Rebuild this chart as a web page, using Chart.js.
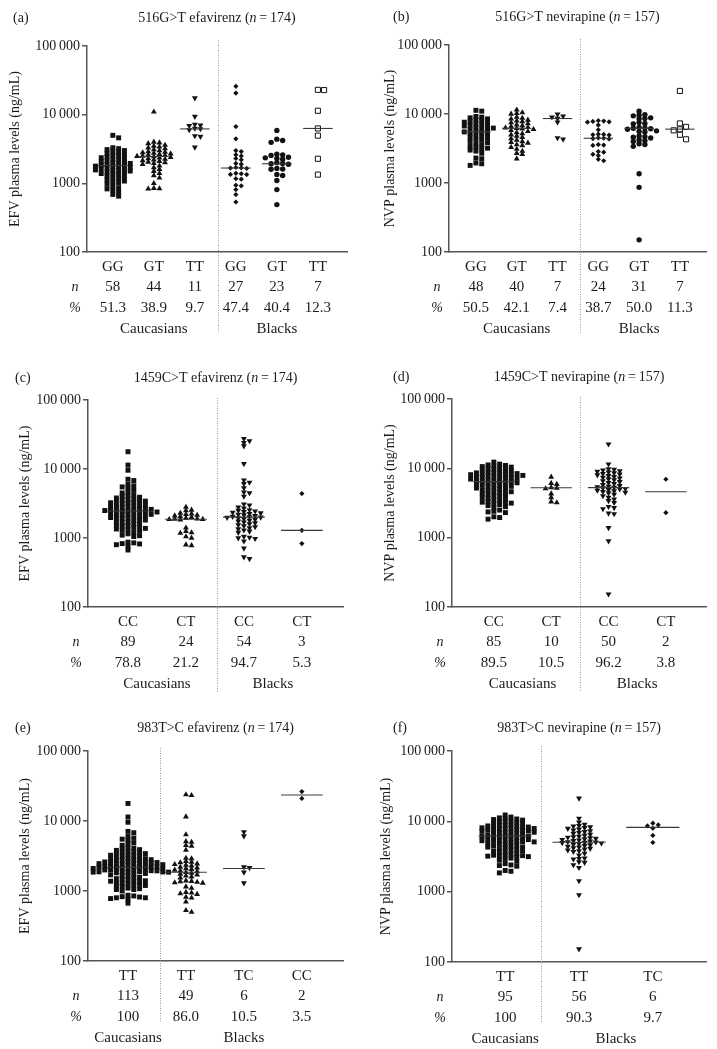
<!DOCTYPE html>
<html>
<head>
<meta charset="utf-8">
<script src="https://cdn.jsdelivr.net/npm/chart.js@4.4.0/dist/chart.umd.min.js"></script>
<style>
  body { margin: 0; background: #fff; width: 717px; height: 1049px; position: relative; overflow: hidden; }
  canvas { position: absolute; }
</style>
</head>
<body>
<canvas id="pa"></canvas>
<canvas id="pb"></canvas>
<canvas id="pc"></canvas>
<canvas id="pd"></canvas>
<canvas id="pe"></canvas>
<canvas id="pf"></canvas>
<script>
// y axis (log) ticks
const yTickVals = [100, 1000, 10000, 100000];
const yTickLabels = ['100', '1000', '10\u2009000', '100\u2009000'];

// (a) 516G>T efavirenz
const aGeno = ['GG', 'GT', 'TT', 'GG', 'GT', 'TT'];
const aN = ['58', '44', '11', '27', '23', '7'];
const aPct = ['51.3', '38.9', '9.7', '47.4', '40.4', '12.3'];
const aMed = [1820, 2460, 6200, 1670, 1930, 6300];
const aCaucGG = [5000, 4600, 3300, 3200, 3100, 3000, 2900, 2800, 2720, 2640, 2560, 2490, 2420, 2360, 2300, 2240, 2180, 2130, 2080, 2030,
  1990, 1950, 1910, 1870, 1840, 1810, 1780, 1750, 1720, 1690, 1660, 1630, 1600, 1570, 1540, 1510, 1480, 1450, 1420, 1390,
  1360, 1320, 1280, 1240, 1200, 1160, 1120, 1080, 1050, 1010, 970, 920, 860, 830, 800, 740, 690, 650];
const aCaucGT = [11000, 4000, 3900, 3800, 3600, 3500, 3400, 3300, 3200, 3100, 3000, 2900, 2850, 2800, 2750, 2700, 2650, 2600, 2550, 2500,
  2480, 2450, 2400, 2350, 2300, 2250, 2200, 2150, 2100, 2050, 2000, 1950, 1900, 1800, 1700, 1600, 1500, 1400, 1300, 1200,
  1000, 850, 840, 830];
const aCaucTT = [17500, 9400, 7200, 7000, 6900, 6300, 6200, 6000, 4900, 4800, 3350];
const aBlkGG = [25900, 20600, 6700, 4450, 3000, 2900, 2600, 2500, 2300, 2200, 1950, 1900, 1700, 1680, 1670, 1650, 1400, 1380, 1350, 1340,
  1170, 1150, 940, 920, 810, 685, 535];
const aBlkGT = [5900, 4400, 4200, 3950, 2650, 2600, 2550, 2400, 2350, 2300, 2250, 2000, 1950, 1930, 1900, 1650, 1620, 1600, 1350, 1300,
  1100, 810, 490];
const aBlkTT = [23000, 22800, 11400, 6300, 4950, 2280, 1340];

// (b) 516G>T nevirapine
const bGeno = ['GG', 'GT', 'TT', 'GG', 'GT', 'TT'];
const bN = ['48', '40', '7', '24', '31', '7'];
const bPct = ['50.5', '42.1', '7.4', '38.7', '50.0', '11.3'];
const bMed = [5530, 6200, 8600, 4450, 6200, 6030];
const bCaucGG = [11300, 11000, 9200, 9000, 8800, 8500, 8200, 8000, 7800, 7600, 7400, 7200, 7000, 6850, 6700, 6550, 6400, 6250, 6100, 5950,
  5800, 5650, 5500, 5350, 5200, 5050, 4900, 4750, 4600, 4450, 4300, 4150, 4000, 3850, 3700, 3550, 3400, 3300, 3200, 3100,
  3000, 2900, 2700, 2300, 2250, 1950, 1900, 1800];
const bCaucGT = [11500, 10500, 10200, 10000, 9000, 8700, 8500, 8200, 8000, 7800, 7500, 7300, 7000, 6800, 6600, 6400, 6300, 6200, 6100, 6000,
  5800, 5600, 5400, 5200, 5000, 4800, 4600, 4400, 4200, 4000, 3900, 3800, 3600, 3500, 3300, 3100, 2900, 2700, 2600, 2250];
const bCaucTT = [9900, 9300, 9000, 8600, 7600, 4500, 4300];
const bBlkGG = [8000, 7900, 7800, 7700, 7600, 6900, 5900, 5100, 5050, 5000, 4950, 4500, 4450, 4400, 4350, 3600, 3550, 3500, 2850, 2800,
  2600, 2500, 2200, 2100];
const bBlkGT = [11000, 9800, 9600, 9400, 8800, 8600, 8500, 7500, 7300, 7200, 6400, 6300, 6200, 6100, 6000, 5700, 5600, 5500, 4800, 4700,
  4600, 4500, 4200, 4100, 4000, 3700, 3600, 3400, 1360, 865, 150];
const bBlkTT = [21600, 7300, 6500, 6000, 5800, 5000, 4300];

// (c) 1459C>T efavirenz
const cGeno = ['CC', 'CT', 'CC', 'CT'];
const cN = ['89', '24', '54', '3'];
const cPct = ['78.8', '21.2', '94.7', '5.3'];
const cMed = [2460, 1870, 2010, 1290];
const cCaucCC = [17800, 11400, 9600, 7100, 6800, 6000, 5700, 5500, 5300, 4900, 4700, 4500, 4200, 4100, 4000, 3900, 3800, 3700,
  3600, 3540, 3480, 3420, 3360, 3300, 3240, 3180, 3120, 3060, 3000, 2950, 2900, 2850, 2800, 2750, 2700, 2660, 2620, 2600,
  2580, 2540, 2500, 2460, 2420, 2400, 2380, 2340, 2300, 2260, 2220, 2200, 2180, 2140, 2100, 2060, 2020, 2000, 1980, 1940,
  1900, 1860, 1820, 1780, 1740, 1700, 1660, 1620, 1580, 1540, 1500, 1470, 1440, 1410, 1380, 1350, 1320, 1290, 1260,
  1200, 1150, 1100, 1080, 1050, 870, 850, 830, 820, 800, 760, 670];
const cCaucCT = [2800, 2550, 2500, 2300, 2250, 2200, 2150, 2100, 2050, 2000, 1950, 1900, 1880, 1870, 1860, 1840,
  1400, 1250, 1200, 1180, 1050, 1000, 800, 780];
const cBlkCC = [27500, 25500, 24000, 21500, 11900, 6900, 6400, 6100, 5300, 4600, 4500, 4000, 3100, 3000, 2800, 2700, 2550, 2500, 2450, 2400,
  2350, 2300, 2250, 2200, 2150, 2100, 2050, 2020, 2000, 1980, 1950, 1900, 1850, 1800, 1750, 1700, 1650, 1600, 1550, 1500,
  1450, 1400, 1350, 1300, 1250, 1200, 1050, 1020, 1000, 980, 900, 710, 530, 500];
const cBlkCT = [4400, 1290, 830];

// (d) 1459C>T nevirapine
const dGeno = ['CC', 'CT', 'CC', 'CT'];
const dN = ['85', '10', '50', '2'];
const dPct = ['89.5', '10.5', '96.2', '3.8'];
const dMed = [6430, 5250, 5270, 4600];
const dCaucCC = [12300, 11500, 11200, 11000, 10800, 10600, 10400, 10200, 10000, 9800, 9600, 9400, 9200, 9000, 8800, 8700, 8600, 8500, 8400, 8300,
  8200, 8100, 8000, 7900, 7800, 7700, 7600, 7500, 7400, 7300, 7200, 7100, 7000, 6900, 6800, 6700, 6600, 6500, 6400, 6300,
  6200, 6100, 6000, 5900, 5800, 5700, 5600, 5500, 5400, 5300, 5200, 5100, 5000, 4900, 4800, 4700, 4600, 4500, 4400, 4300,
  4200, 4100, 4000, 3900, 3800, 3700, 3600, 3500, 3400, 3300, 3250, 3200, 3150, 3100, 3000, 2900, 2800, 2700, 2500, 2400,
  2350, 2300, 2000, 1950, 1850];
const dCaucCT = [7500, 6100, 5900, 5300, 5200, 5100, 4300, 3800, 3300, 3200];
const dBlkCC = [22300, 11500, 9800, 9600, 9400, 9200, 9000, 8800, 8600, 8400, 8200, 8000, 7800, 7600, 7400, 7200, 7000, 6800, 6600, 6400,
  6200, 6000, 5800, 5600, 5500, 5400, 5300, 5200, 5100, 5000, 4900, 4800, 4700, 4600, 4500, 4400, 4200, 4000, 3800, 3600,
  3400, 3200, 2800, 2700, 2600, 2250, 2200, 1390, 895, 153];
const dBlkCT = [6960, 2290];

// (e) 983T>C efavirenz
const eGeno = ['TT', 'TT', 'TC', 'CC'];
const eN = ['113', '49', '6', '2'];
const ePct = ['100', '86.0', '10.5', '3.5'];
const eMed = [2180, 1850, 2100, 23500];
const eCaucTT = cCaucCC.concat(cCaucCT);
const eBlkTT = [23800, 23200, 11500, 6400, 5100, 5000, 4500, 4400, 3850, 2950, 2900, 2650, 2600, 2550, 2450, 2400, 2350, 2300, 2200, 2150,
  2100, 2050, 2000, 1950, 1900, 1850, 1800, 1750, 1700, 1650, 1600, 1550, 1400, 1380, 1360, 1340, 1320, 1300, 1150, 1100,
  960, 940, 920, 900, 820, 800, 700, 530, 500];
const eBlkTC = [7000, 6100, 2200, 2150, 1850, 1300];
const eBlkCC = [26300, 21000];

// (f) 983T>C nevirapine
const fGeno = ['TT', 'TT', 'TC'];
const fN = ['95', '56', '6'];
const fPct = ['100', '90.3', '9.7'];
const fMed = [6200, 5040, 8200];
const fCaucTT = dCaucCC.concat(dCaucCT);
const fBlkTT = [21300, 11000, 9700, 9000, 8700, 8500, 8300, 8100, 7900, 7700, 7500, 7300, 7100, 6900, 6700, 6500, 6300, 6100, 6000, 5900,
  5800, 5700, 5600, 5500, 5400, 5300, 5200, 5100, 5050, 5000, 4950, 4900, 4800, 4700, 4600, 4500, 4400, 4300, 4200, 4100,
  4000, 3900, 3800, 3700, 3500, 3300, 3000, 2950, 2900, 2650, 2600, 2400, 2200, 1420, 900, 153];
const fBlkTC = [9400, 8900, 8600, 8000, 6300, 5000];

const FONT = '"Liberation Serif", "Times New Roman", serif';
const TXT = '#1b1b1b';
const AXIS = '#555';

const MARKS = {
  sq:   { style: 'rect', r: 3.5, rot: 0, fill: '#111', bw: 0, s: 5.8, h: 3.4 },
  tri:  { style: 'triangle', r: 3.4, rot: 0, fill: '#111', bw: 0, s: 5.6, h: 3.2 },
  dtri: { style: 'triangle', r: 3.4, rot: 180, fill: '#111', bw: 0, s: 5.6, h: 3.2 },
  dia:  { style: 'rectRot', r: 2.6, rot: 0, fill: '#111', bw: 0, s: 5.4, h: 3.2 },
  dot:  { style: 'circle', r: 2.7, rot: 0, fill: '#111', bw: 0, s: 5.8, h: 3.6 },
  osq:  { style: 'rect', r: 3.6, rot: 0, fill: '#fff', bw: 1, s: 6.2, h: 5 }
};

const panels = [
  { id: 'pa', box: [0, 0, 358, 345], area: [87, 347, 46, 252], xr: [0.37, 6.71], div: 3.56, divSpan: [-6, 81],
    letter: '(a)', letterX: 13, titleDy: 28, yTitleX: 15, yTitle: 'EFV plasma levels (ng/mL)',
    title: [['516G>T efavirenz (', 0], ['n', 1], ['\u2009=\u2009174)', 0]],
    geno: aGeno, n: aN, pct: aPct, med: aMed,
    groups: [aCaucGG, aCaucGT, aCaucTT, aBlkGG, aBlkGT, aBlkTT], marks: ['sq', 'tri', 'dtri', 'dia', 'dot', 'osq'],
    pops: [['Caucasians', 2], ['Blacks', 5]] },
  { id: 'pb', box: [358, 0, 359, 345], area: [449, 706, 45, 252], xr: [0.34, 6.64], div: 3.55, divSpan: [-6, 81],
    letter: '(b)', letterX: 35, titleDy: 28, yTitleX: 32, yTitle: 'NVP plasma levels (ng/mL)',
    title: [['516G>T nevirapine (', 0], ['n', 1], ['\u2009=\u2009157)', 0]],
    geno: bGeno, n: bN, pct: bPct, med: bMed,
    groups: [bCaucGG, bCaucGT, bCaucTT, bBlkGG, bBlkGT, bBlkTT], marks: ['sq', 'tri', 'dtri', 'dia', 'dot', 'osq'],
    pops: [['Caucasians', 2], ['Blacks', 5]] },
  { id: 'pc', box: [0, 340, 358, 360], area: [88, 343, 400, 607], xr: [0.31, 4.71], div: 2.53, divSpan: [-2, 85],
    letter: '(c)', letterX: 15, titleDy: 22, yTitleX: 25, yTitle: 'EFV plasma levels (ng/mL)',
    title: [['1459C>T efavirenz (', 0], ['n', 1], ['\u2009=\u2009174)', 0]],
    geno: cGeno, n: cN, pct: cPct, med: cMed,
    groups: [cCaucCC, cCaucCT, cBlkCC, cBlkCT], marks: ['sq', 'tri', 'dtri', 'dia'],
    pops: [['Caucasians', 1.5], ['Blacks', 3.5]] },
  { id: 'pd', box: [358, 340, 359, 360], area: [452, 706, 399, 607], xr: [0.27, 4.70], div: 2.5, divSpan: [-2, 85],
    letter: '(d)', letterX: 35, titleDy: 22, yTitleX: 32, yTitle: 'NVP plasma levels (ng/mL)',
    title: [['1459C>T nevirapine (', 0], ['n', 1], ['\u2009=\u2009157)', 0]],
    geno: dGeno, n: dN, pct: dPct, med: dMed,
    groups: [dCaucCC, dCaucCT, dBlkCC, dBlkCT], marks: ['sq', 'tri', 'dtri', 'dia'],
    pops: [['Caucasians', 1.5], ['Blacks', 3.5]] },
  { id: 'pe', box: [0, 700, 358, 349], area: [88, 343, 751, 961], xr: [0.31, 4.71], div: 1.55, divSpan: [-3, 62],
    letter: '(e)', letterX: 15, titleDy: 23, yTitleX: 25, yTitle: 'EFV plasma levels (ng/mL)',
    title: [['983T>C efavirenz (', 0], ['n', 1], ['\u2009=\u2009174)', 0]],
    geno: eGeno, n: eN, pct: ePct, med: eMed,
    groups: [eCaucTT, eBlkTT, eBlkTC, eBlkCC], marks: ['sq', 'tri', 'dtri', 'dia'],
    pops: [['Caucasians', 1], ['Blacks', 3]] },
  { id: 'pf', box: [358, 700, 359, 349], area: [452, 706, 751, 962], xr: [0.28, 3.72], div: 1.49, divSpan: [-5, 61],
    letter: '(f)', letterX: 35, titleDy: 23, yTitleX: 28, yTitle: 'NVP plasma levels (ng/mL)',
    title: [['983T>C nevirapine (', 0], ['n', 1], ['\u2009=\u2009157)', 0]],
    geno: fGeno, n: fN, pct: fPct, med: fMed,
    groups: [fCaucTT, fBlkTT, fBlkTC], marks: ['sq', 'dtri', 'dia'],
    pops: [['Caucasians', 1], ['Blacks', 2.5]] }
];

// column scatter: each point goes to the nearest free slot beside the others
function swarm(vals, cat, pxPerUnit, pxPerDec, m) {
  const placed = [];
  vals.slice().sort((p, q) => q - p).forEach(v => {
    const py = Math.log10(v) * pxPerDec;
    let off = 0;
    for (let k = 0; k < 80; k++) {
      const o = (k % 2 ? 1 : -1) * Math.ceil(k / 2) * m.s / 2;
      const hit = placed.some(q => Math.abs(q.px - o) < m.s - 0.01 && Math.abs(q.py - py) < m.h);
      if (!hit) { off = o; break; }
    }
    placed.push({ px: off, py: py, v: v });
  });
  return placed.map(q => ({ x: cat + q.px / pxPerUnit, y: q.v }));
}

function drawParts(ctx, parts, cx, y, size) {
  let w = 0;
  parts.forEach(([t, it]) => {
    ctx.font = (it ? 'italic ' : '') + size + 'px ' + FONT;
    w += ctx.measureText(t).width;
  });
  let x = cx - w / 2;
  ctx.textAlign = 'left';
  parts.forEach(([t, it]) => {
    ctx.font = (it ? 'italic ' : '') + size + 'px ' + FONT;
    ctx.fillText(t, x, y);
    x += ctx.measureText(t).width;
  });
}

function makePlugin(p) {
  return {
    id: 'panelText' + p.id,
    beforeDatasetsDraw(chart) {
      const ctx = chart.ctx, ca = chart.chartArea, xs = chart.scales.x;
      const dx = Math.round(xs.getPixelForValue(p.div)) + 0.5;
      ctx.save();
      ctx.strokeStyle = '#9a9a9a';
      ctx.lineWidth = 1;
      ctx.setLineDash([1, 1.5]);
      ctx.beginPath();
      ctx.moveTo(dx, ca.top + p.divSpan[0]);
      ctx.lineTo(dx, ca.bottom + p.divSpan[1]);
      ctx.stroke();
      ctx.restore();
    },
    afterDraw(chart) {
      const ctx = chart.ctx, ca = chart.chartArea, xs = chart.scales.x;
      ctx.save();
      ctx.fillStyle = TXT;
      ctx.textBaseline = 'middle';
      // title and panel letter
      const ty = ca.top - p.titleDy;
      drawParts(ctx, p.title, (ca.left + ca.right) / 2, ty, 14);
      ctx.font = '14px ' + FONT;
      ctx.textAlign = 'left';
      ctx.fillText(p.letter, p.letterX, ty);
      // y title
      ctx.save();
      ctx.translate(p.yTitleX, (ca.top + ca.bottom) / 2);
      ctx.rotate(-Math.PI / 2);
      ctx.textAlign = 'center';
      ctx.font = '14px ' + FONT;
      ctx.fillText(p.yTitle, 0, 0);
      ctx.restore();
      // rows under the axis
      ctx.textAlign = 'center';
      const rows = [p.geno, p.n, p.pct];
      const rowDy = [15, 35, 56];
      rows.forEach((row, r) => {
        ctx.font = '15px ' + FONT;
        row.forEach((t, i) => ctx.fillText(t, xs.getPixelForValue(i + 1), ca.bottom + rowDy[r]));
      });
      ctx.font = 'italic 14px ' + FONT;
      ctx.fillText('n', ca.left - 12, ca.bottom + rowDy[1]);
      ctx.fillText('%', ca.left - 12, ca.bottom + rowDy[2]);
      ctx.font = '15px ' + FONT;
      p.pops.forEach(([t, c]) => ctx.fillText(t, xs.getPixelForValue(c), ca.bottom + 77));
      ctx.restore();
    }
  };
}

panels.forEach(p => {
  const cv = document.getElementById(p.id);
  const [bx, by, bw, bh] = p.box;
  const [L, R, T, B] = p.area;
  cv.width = bw; cv.height = bh;
  cv.style.left = bx + 'px'; cv.style.top = by + 'px';
  cv.style.width = bw + 'px'; cv.style.height = bh + 'px';
  const YW = 75;
  const pxPerUnit = (R - L) / (p.xr[1] - p.xr[0]);
  const pxPerDec = (B - T) / 3;

  const datasets = [];
  p.med.forEach((m, i) => {
    datasets.push({
      data: [{ x: i + 1 - 0.36, y: m }, { x: i + 1 + 0.36, y: m }],
      showLine: true, borderColor: '#3a3a3a', borderWidth: 1.1, pointRadius: 0, order: 0
    });
  });
  p.groups.forEach((vals, i) => {
    const mk = MARKS[p.marks[i]];
    datasets.push({
      data: swarm(vals, i + 1, pxPerUnit, pxPerDec, mk),
      pointStyle: mk.style, pointRadius: mk.r, pointRotation: mk.rot,
      pointBackgroundColor: mk.fill, pointBorderColor: '#111', pointBorderWidth: mk.bw,
      showLine: false, order: 1
    });
  });

  new Chart(cv, {
    type: 'scatter',
    data: { datasets: datasets },
    options: {
      responsive: false,
      devicePixelRatio: 1,
      animation: false,
      events: [],
      layout: { padding: { left: L - bx - YW, right: bx + bw - R, top: T - by, bottom: by + bh - B } },
      plugins: { legend: { display: false }, tooltip: { enabled: false } },
      scales: {
        x: {
          type: 'linear', min: p.xr[0], max: p.xr[1],
          ticks: { display: false },
          grid: { display: false },
          border: { display: true, color: AXIS, width: 1.5 },
          afterFit(s) { s.height = 0; }
        },
        y: {
          type: 'logarithmic', min: 100, max: 100000,
          afterBuildTicks(s) { s.ticks = yTickVals.map(v => ({ value: v })); },
          ticks: {
            autoSkip: false, padding: 2, color: TXT,
            font: { family: FONT, size: 14 },
            callback: v => { const k = yTickVals.indexOf(v); return k < 0 ? '' : yTickLabels[k]; }
          },
          grid: { drawOnChartArea: false, drawTicks: true, tickLength: 5, color: AXIS, lineWidth: 1.5 },
          border: { display: true, color: AXIS, width: 1.5 },
          afterFit(s) { s.width = YW; }
        }
      }
    },
    plugins: [makePlugin(p)]
  });
});
</script>
</body>
</html>
